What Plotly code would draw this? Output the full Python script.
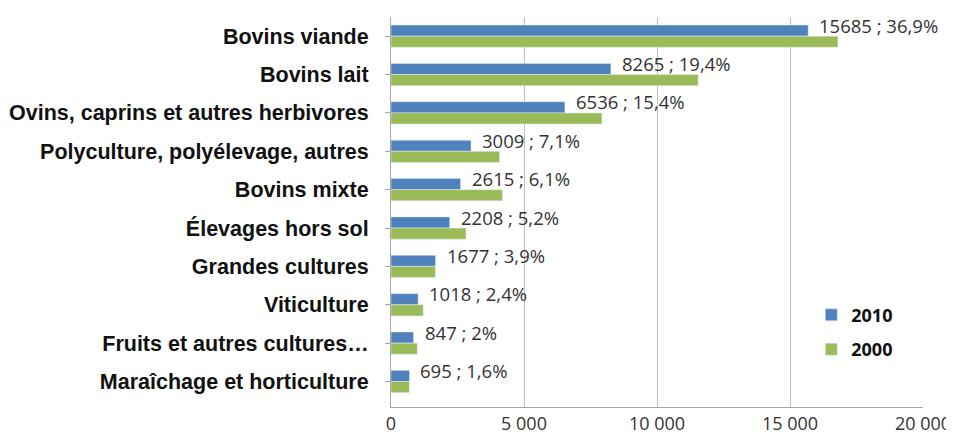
import plotly.graph_objects as go

categories = [
    "Bovins viande",
    "Bovins lait",
    "Ovins, caprins et autres herbivores",
    "Polyculture, polyélevage, autres",
    "Bovins mixte",
    "Élevages hors sol",
    "Grandes cultures",
    "Viticulture",
    "Fruits et autres cultures…",
    "Maraîchage et horticulture",
]
values_2010 = [15685, 8265, 6536, 3009, 2615, 2208, 1677, 1018, 847, 695]
share_2010 = ["36,9%", "19,4%", "15,4%", "7,1%", "6,1%", "5,2%", "3,9%", "2,4%", "2%", "1,6%"]
values_2000 = [16800, 11550, 7930, 4080, 4190, 2820, 1670, 1210, 990, 690]

tick_vals = [0, 5000, 10000, 15000, 20000]
tick_text = ["0", "5 000", "10 000", "15 000", "20 000"]

BLUE = "#4F81BD"
GREEN = "#9BBB59"
LABEL_FONT = "Open Sans, Noto Sans, sans-serif"

fig = go.Figure()
fig.add_trace(go.Bar(
    y=categories, x=values_2010, orientation="h", name="2010",
    marker=dict(color=BLUE), legendgroup="a",
))
fig.add_trace(go.Bar(
    y=categories, x=values_2000, orientation="h", name="2000",
    marker=dict(color=GREEN), legendgroup="b",
))

for c, v, p in zip(categories, values_2010, share_2010):
    fig.add_annotation(
        x=v, y=c, text=f"{v} ; {p}", showarrow=False,
        xanchor="left", yanchor="middle", xshift=9, yshift=11,
        font=dict(family=LABEL_FONT, size=18.5, color="#333333"),
    )

# page body has an 8px margin: size the figure so it fits the 954x439 window
fig.update_layout(
    width=946, height=431,
    margin=dict(l=383, r=31, t=9, b=32),
    paper_bgcolor="white", plot_bgcolor="white",
    barmode="group", bargap=0.42, bargroupgap=0,
    showlegend=True,
    legend=dict(
        x=0.79, y=0.283, xanchor="left", yanchor="top",
        font=dict(family=LABEL_FONT, size=18, color="#111111", weight="bold"),
        tracegroupgap=8, traceorder="grouped",
        bgcolor="rgba(0,0,0,0)",
    ),
)
fig.update_xaxes(
    range=[0, 20000], tickvals=tick_vals, ticktext=tick_text,
    automargin=False,
    showgrid=True, gridcolor="#BFBFBF", gridwidth=1,
    showline=True, linecolor="#A6A6A6", linewidth=1,
    zeroline=False, ticks="",
    tickfont=dict(family=LABEL_FONT, size=18, color="#333333"),
)
fig.update_yaxes(
    autorange="reversed", automargin=False,
    showline=True, linecolor="#A6A6A6", linewidth=1,
    ticks="outside", ticklen=5, tickcolor="#A6A6A6",
    ticklabelstandoff=12,
    showgrid=False,
    tickfont=dict(family="Liberation Sans, Arial, sans-serif", size=21.5, color="#111111", weight="bold"),
)

fig.write_html("out.html")
